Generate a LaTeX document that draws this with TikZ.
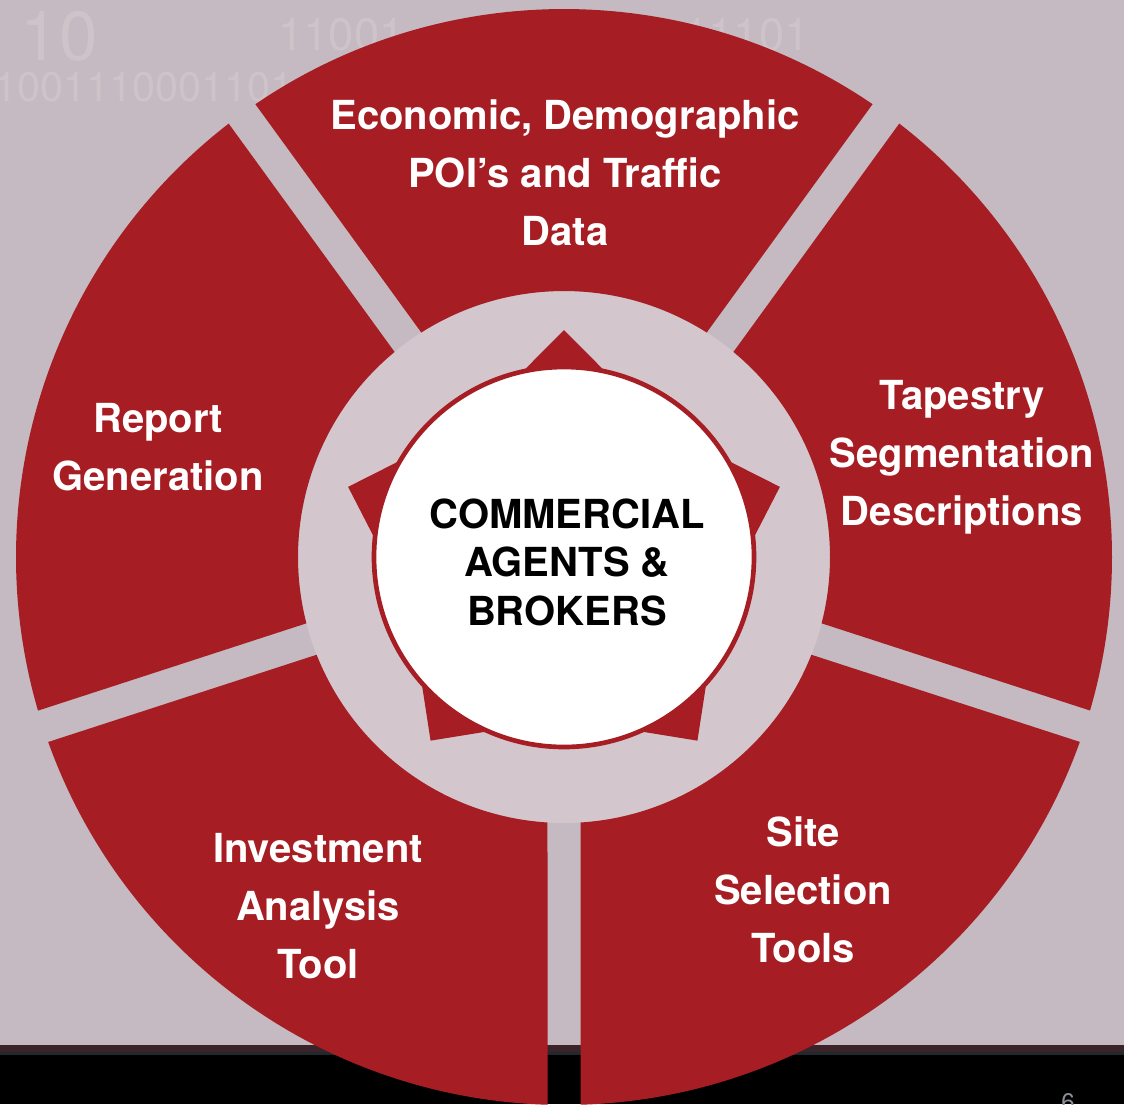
\documentclass[tikz,border=0pt]{standalone}
\usepackage{fontspec}
\setmainfont{TeX Gyre Heros}
\definecolor{slidebg}{HTML}{C6BAC2}
\definecolor{ringbg}{HTML}{D3C7CD}
\definecolor{wheelred}{HTML}{A61E23}
\definecolor{digitgray}{HTML}{CFC3CA}
\definecolor{barbrown}{HTML}{3A2329}
\definecolor{barslate}{HTML}{22292D}
\definecolor{pagegray}{HTML}{8C9196}

\tikzset{every picture/.style={line width=0.75pt}}
\tikzset{
  sector/.style={fill=wheelred},
  segtext/.style={text=white, align=center, font=\fontsize{30}{43.5}\selectfont\bfseries},
  hubtext/.style={text=black, align=center, font=\fontsize{30}{36.4}\selectfont\bfseries},
  bgdigits/.style={text=digitgray, inner sep=0pt},
}

\begin{document}
\begin{tikzpicture}[x=0.75pt,y=0.75pt,yscale=-1,xscale=1]
        \useasboundingbox (0,0) rectangle (1124,1104);

        %Background
        \fill[slidebg] (0,0) rectangle (1124,1104);
        \node[bgdigits, anchor=base west, font=\fontsize{52}{52}\selectfont] (dig10) at (20,60) {10};
        \node[bgdigits, anchor=base west, font=\fontsize{31}{31}\selectfont] (digrow) at (-6,101) {1001110001101};
        \node[bgdigits, anchor=base west, font=\fontsize{34}{34}\selectfont] (digtop) at (278,50) {11001};
        \node[bgdigits, anchor=base west, font=\fontsize{34}{34}\selectfont] (digright) at (683,50) {11101};
        %Footer bar
        \fill[barbrown] (0,1045) rectangle (1124,1052);
        \fill[barslate] (0,1052) rectangle (1124,1055);
        \fill[black] (0,1055) rectangle (1124,1104);
        \node[text=pagegray, anchor=base, font=\fontsize{18}{18}\selectfont] (pagenum) at (1068,1110) {6};

        \begin{scope}[shift={(564,557)}]
        %Inner ring
        \fill[ringbg] (0,0) circle[radius=266];

        %Sector: top
        \fill[sector] (-57.56:266) -- (-55.73:548) arc[start angle=-55.73, end angle=-124.28, radius=548] -- (-122.44:266) arc[start angle=-122.44, end angle=-57.56, radius=266] -- cycle;
        %Sector: left
        \fill[sector] (-129.56:266) -- (-127.73:548) arc[start angle=-127.73, end angle=-196.28, radius=548] -- (-194.44:266) arc[start angle=-194.44, end angle=-129.56, radius=266] -- cycle;
        %Sector: bottom left
        \fill[sector] (-201.56:266) -- (-199.73:548) arc[start angle=-199.73, end angle=-268.28, radius=548] -- (-266.44:266) arc[start angle=-266.44, end angle=-201.56, radius=266] -- cycle;
        %Sector: bottom right
        \fill[sector] (-273.56:266) -- (-271.73:548) arc[start angle=-271.73, end angle=-340.28, radius=548] -- (-338.44:266) arc[start angle=-338.44, end angle=-273.56, radius=266] -- cycle;
        %Sector: right
        \fill[sector] (-345.56:266) -- (-343.73:548) arc[start angle=-343.73, end angle=-412.28, radius=548] -- (-410.44:266) arc[start angle=-410.44, end angle=-345.56, radius=266] -- cycle;

        %Star behind hub
        \fill[wheelred] (-90:227) -- (-126:162) -- (-162:227) -- (-198:162) -- (-234:227) -- (-270:162) -- (-306:227) -- (-342:162) -- (-18:227) -- (-54:162) -- cycle;
        %Hub circle
        \draw[wheelred, line width=3.5pt, fill=white] (0,0) circle[radius=190];
        \end{scope}

        %Labels
        \node[segtext] (econ) at (565,173) {Economic, Demographic\\POI’s and Traffic\\Data};
        \node[segtext] (report) at (158,447) {Report\\Generation};
        \node[segtext] (tapestry) at (962,457) {Tapestry\\Segmentation\\Descriptions};
        \node[segtext] (invest) at (318,906) {Investment\\Analysis\\Tool};
        \node[segtext] (site) at (803,890) {Site\\Selection\\Tools};
        \node[hubtext] (hub) at (567,562) {COMMERCIAL\\AGENTS \&\\BROKERS};

        \end{tikzpicture}
\end{document}
